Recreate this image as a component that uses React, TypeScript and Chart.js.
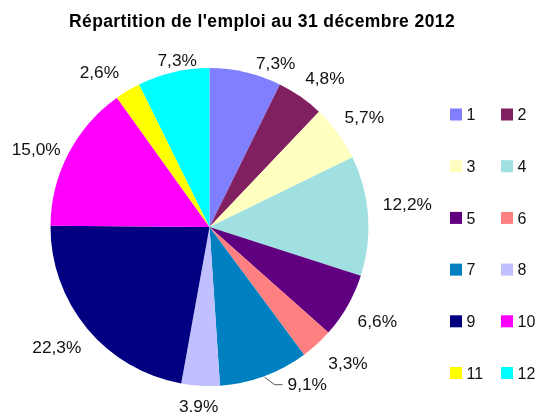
import React, { useEffect, useRef } from "react";
import { Chart, registerables } from "chart.js";

Chart.register(...registerables);

const title = "Répartition de l'emploi au 31 décembre 2012";
const categories = ["1", "2", "3", "4", "5", "6", "7", "8", "9", "10", "11", "12"];
const values = [7.3, 4.8, 5.7, 12.2, 6.6, 3.3, 9.1, 3.9, 22.3, 15.0, 2.6, 7.3];
const colors = [
  "#8080ff", "#802060", "#ffffc0", "#a0e0e0", "#600080", "#ff8080",
  "#0080c0", "#c0c0ff", "#000080", "#ff00ff", "#ffff00", "#00ffff",
];
// label placement tweaks: angle shift (deg, clockwise), radial shift (px), leader line
const labelAngleShift = [7.4, 0.9, -1.1, -3.3, 1.2, -1.2, -10, 0, -1.1, -0.8, -2.6, 3];
const labelRadiusShift = [-6, 2.6, 0, 0, 1, 6, 0, -2, 2, -5.6, 4.7, -11];
const labelLeader = [false, false, false, false, false, false, true, false, false, false, false, false];

const FONT = '"Liberation Sans", Arial, Helvetica, sans-serif';
const LABEL_SIZE = 17.3;
const LEGEND_SIZE = 16;
const GAP = 16;

const fmt = (v: number) => v.toFixed(1).replace(".", ",") + "%";

const decorPlugin = {
  id: "decor",
  afterDraw(chart: any) {
    const ctx = chart.ctx as CanvasRenderingContext2D;
    ctx.save();
    // title
    ctx.fillStyle = "#000";
    ctx.font = `bold 17.5px ${FONT}`;
    (ctx as any).letterSpacing = "0.4px";
    ctx.textAlign = "center";
    ctx.textBaseline = "alphabetic";
    ctx.fillText(title, 262, 27.3);
    (ctx as any).letterSpacing = "0px";

    // outside labels
    const meta = chart.getDatasetMeta(0);
    ctx.font = `${LABEL_SIZE}px ${FONT}`;
    const capH = LABEL_SIZE * 0.716;
    meta.data.forEach((arc: any, i: number) => {
      const p = arc.getProps(["x", "y", "startAngle", "endAngle", "outerRadius"], true);
      const baseMid = (p.startAngle + p.endAngle) / 2;
      const mid = baseMid + (labelAngleShift[i] * Math.PI) / 180;
      const ux = Math.cos(mid);
      const uy = Math.sin(mid);
      const text = fmt(values[i]);
      const w = ctx.measureText(text).width;
      const d = p.outerRadius + GAP + labelRadiusShift[i];
      const cx = p.x + ux * d + (w / 2) * ux;
      const cy = p.y + uy * d + (capH / 2) * uy;
      ctx.fillStyle = "#111";
      ctx.textAlign = "center";
      ctx.fillText(text, cx, cy + capH / 2);
      if (labelLeader[i]) {
        const sx = p.x + Math.cos(baseMid) * (p.outerRadius + 1);
        const sy = p.y + Math.sin(baseMid) * (p.outerRadius + 1);
        const left = cx - w / 2;
        ctx.strokeStyle = "#555";
        ctx.lineWidth = 1;
        ctx.beginPath();
        ctx.moveTo(sx, sy);
        ctx.lineTo(left - 13, cy + 1);
        ctx.lineTo(left - 5, cy + 1);
        ctx.stroke();
      }
    });

    // legend (2 columns)
    ctx.font = `${LEGEND_SIZE}px ${FONT}`;
    ctx.textAlign = "left";
    const legCap = LEGEND_SIZE * 0.716;
    categories.forEach((c, i) => {
      const col = i % 2;
      const row = Math.floor(i / 2);
      const bx = 450 + col * 51;
      const by = 108.5 + row * 51.7;
      ctx.fillStyle = colors[i];
      ctx.fillRect(bx, by, 12, 12);
      ctx.fillStyle = "#111";
      ctx.fillText(c, bx + 16.5, by + 6 + legCap / 2);
    });
    ctx.restore();
  },
};

export default function App() {
  const ref = useRef<HTMLCanvasElement>(null);
  useEffect(() => {
    if (!ref.current) return;
    const chart = new Chart(ref.current, {
      type: "pie",
      data: {
        labels: categories,
        datasets: [
          {
            data: values,
            backgroundColor: colors,
            borderWidth: 0,
          },
        ],
      },
      options: {
        responsive: false,
        devicePixelRatio: 1,
        animation: false,
        layout: { padding: { left: 50.5, right: 171.5, top: 68, bottom: 26 } },
        plugins: {
          legend: { display: false },
          title: { display: false },
          tooltip: { enabled: false },
        },
      },
      plugins: [decorPlugin],
    } as any);
    return () => chart.destroy();
  }, []);
  return (
    <div style={{ position: "absolute", left: 0, top: 0, width: 540, height: 412, background: "#fff" }}>
      <canvas ref={ref} width={540} height={412} style={{ width: 540, height: 412 }} />
    </div>
  );
}
